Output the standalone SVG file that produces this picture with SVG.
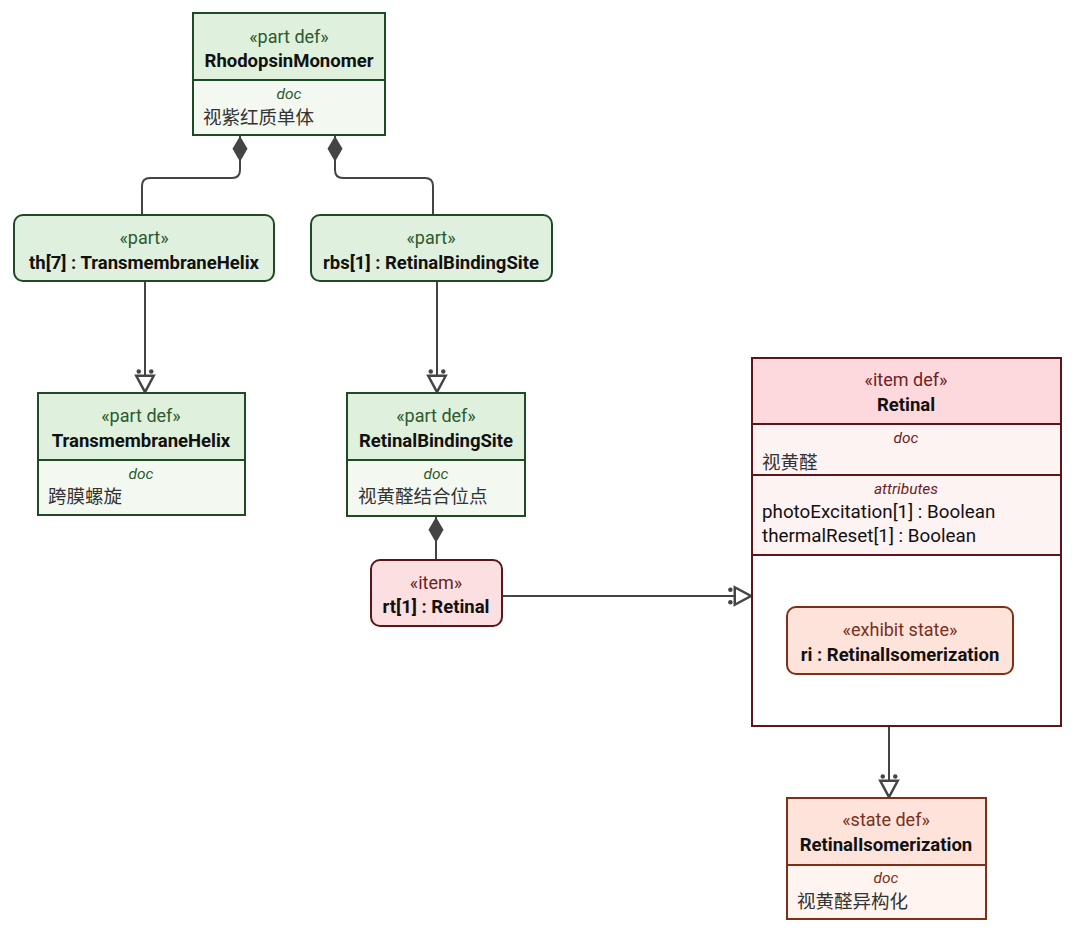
<svg xmlns="http://www.w3.org/2000/svg" width="1080" height="933" viewBox="0 0 1080 933">
<defs>
<style>
.t{font-family:Roboto,"Noto Sans",sans-serif;font-size:18px;text-anchor:middle}
.st{fill:#2b5a2e}
.sr{fill:#6b1f24}
.so{fill:#7a2f1a}
.nm{font-weight:bold;fill:#111;font-size:18.5px}
.doc{font-family:Roboto,"Noto Sans",sans-serif;font-size:15.5px;font-style:italic;text-anchor:middle}
.cn{font-family:"Noto Sans CJK SC",sans-serif;font-size:18.5px;fill:#333}
.at{font-family:Roboto,"Noto Sans",sans-serif;font-size:18.8px;fill:#111}
.g{stroke:#1e4a26;stroke-width:2}
.r{stroke:#5c1518;stroke-width:2}
.o{stroke:#7e2f16;stroke-width:2}
.c{fill:none;stroke:#444;stroke-width:2}
</style>
<marker id="typ" markerUnits="userSpaceOnUse" markerWidth="30" markerHeight="30" viewBox="-8 -10 24 20" refX="13" refY="0" orient="auto">
<path d="M0,-7 L13,0 L0,7 Z" fill="#fff" stroke="#444" stroke-width="2"/>
<circle cx="-3.5" cy="-5" r="1.8" fill="#444"/>
<circle cx="-3.5" cy="5" r="1.8" fill="#444"/>
</marker>
<marker id="dia" markerUnits="userSpaceOnUse" markerWidth="30" markerHeight="20" viewBox="-1 -9 28 18" refX="0" refY="0" orient="auto">
<path d="M0,0 L12,-7 L24,0 L12,7 Z" fill="#444"/>
</marker>
</defs>
<rect width="1080" height="933" fill="#fff"/>

<g id="connectors">
<path class="c" d="M240,136 V170 Q240,178 232,178 H150 Q142,178 142,186 V215" marker-start="url(#dia)"/>
<path class="c" d="M335,136 V170 Q335,178 343,178 H425 Q433,178 433,186 V215" marker-start="url(#dia)"/>
<path class="c" d="M145,282 V392" marker-end="url(#typ)"/>
<path class="c" d="M437,282 V392" marker-end="url(#typ)"/>
<path class="c" d="M436,517 V560" marker-start="url(#dia)"/>
<path class="c" d="M503,596 H751" marker-end="url(#typ)"/>
<path class="c" d="M889,675 V797" marker-end="url(#typ)"/>
</g>

<g id="RhodopsinMonomer">
<rect x="193" y="13" width="192" height="122" fill="#f3f9f1" class="g"/>
<rect x="193" y="13" width="192" height="67" fill="#dff0dd" class="g"/>
<text class="t st" x="289" y="43">«part def»</text>
<text class="t nm" x="289" y="67">RhodopsinMonomer</text>
<text class="doc st" x="289" y="99">doc</text>
<text class="cn" x="203" y="124">视紫红质单体</text>
</g>

<g id="th">
<rect x="14" y="215" width="260" height="66" rx="9" fill="#e0f0de" class="g"/>
<text class="t st" x="144" y="244">«part»</text>
<text class="t nm" x="144" y="269">th[7] : TransmembraneHelix</text>
</g>

<g id="rbs">
<rect x="311" y="215" width="241" height="66" rx="9" fill="#e0f0de" class="g"/>
<text class="t st" x="431" y="244">«part»</text>
<text class="t nm" x="431" y="269">rbs[1] : RetinalBindingSite</text>
</g>

<g id="TransmembraneHelix">
<rect x="38" y="393" width="207" height="122" fill="#f3f9f1" class="g"/>
<rect x="38" y="393" width="207" height="67" fill="#dff0dd" class="g"/>
<text class="t st" x="141" y="422">«part def»</text>
<text class="t nm" x="141" y="447">TransmembraneHelix</text>
<text class="doc st" x="141" y="479">doc</text>
<text class="cn" x="48" y="503">跨膜螺旋</text>
</g>

<g id="RetinalBindingSite">
<rect x="347" y="393" width="178" height="123" fill="#f3f9f1" class="g"/>
<rect x="347" y="393" width="178" height="67" fill="#dff0dd" class="g"/>
<text class="t st" x="436" y="422">«part def»</text>
<text class="t nm" x="436" y="447">RetinalBindingSite</text>
<text class="doc st" x="436" y="479">doc</text>
<text class="cn" x="358" y="503">视黄醛结合位点</text>
</g>

<g id="rt">
<rect x="371" y="560" width="131" height="66" rx="9" fill="#fcdfe1" class="r"/>
<text class="t sr" x="436" y="589">«item»</text>
<text class="t nm" x="436" y="613">rt[1] : Retinal</text>
</g>

<g id="Retinal">
<rect x="752" y="358" width="309" height="368" fill="#fff" class="r"/>
<rect x="752" y="358" width="309" height="197" fill="#fdf3f3" class="r"/>
<rect x="752" y="358" width="309" height="66" fill="#fdd9dd" class="r"/>
<line x1="752" y1="475" x2="1061" y2="475" class="r"/>
<text class="t sr" x="906" y="386">«item def»</text>
<text class="t nm" x="906" y="411">Retinal</text>
<text class="doc sr" x="906" y="443">doc</text>
<text class="cn" x="762" y="469">视黄醛</text>
<text class="doc sr" x="906" y="494">attributes</text>
<text class="at" x="762" y="518">photoExcitation[1] : Boolean</text>
<text class="at" x="762" y="542">thermalReset[1] : Boolean</text>
</g>

<g id="ri">
<rect x="787" y="607" width="226" height="67" rx="9" fill="#fde3da" class="o"/>
<text class="t so" x="900" y="636">«exhibit state»</text>
<text class="t nm" x="900" y="661">ri : RetinalIsomerization</text>
</g>

<g id="RetinalIsomerization">
<rect x="787" y="798" width="199" height="121" fill="#fff4f0" class="o"/>
<rect x="787" y="798" width="199" height="67" fill="#fde3da" class="o"/>
<text class="t so" x="886" y="826">«state def»</text>
<text class="t nm" x="886" y="851">RetinalIsomerization</text>
<text class="doc so" x="886" y="883">doc</text>
<text class="cn" x="797" y="908">视黄醛异构化</text>
</g>
</svg>
